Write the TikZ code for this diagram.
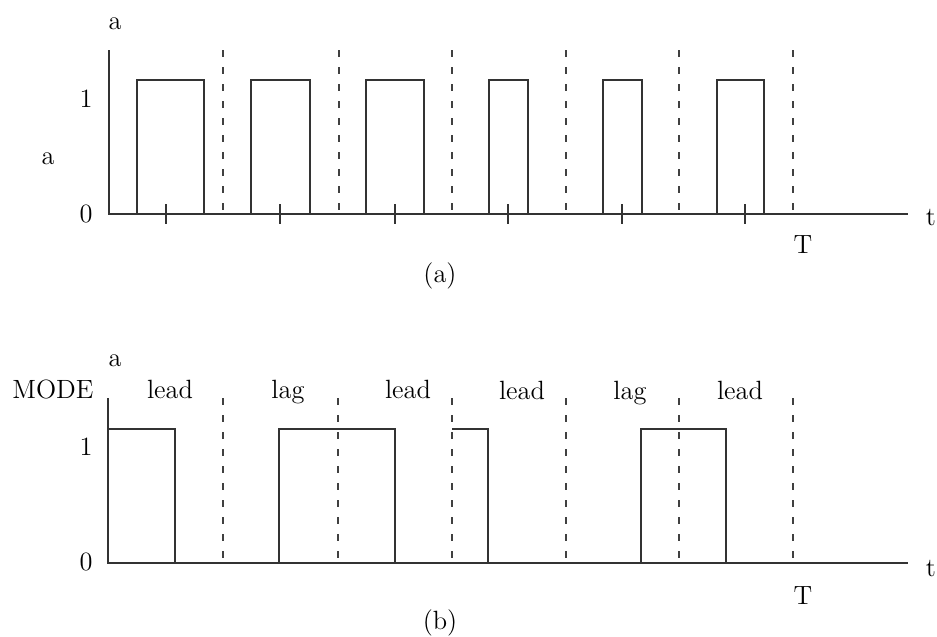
\documentclass[tikz,border=0pt]{standalone}
\begin{document}
\begin{tikzpicture}[x=0.5pt,y=-0.5pt,
  lbl/.style={font=\fontsize{13.2}{15.8}\selectfont, inner sep=0pt},
  axisline/.style={line width=0.65pt, draw=black!80},
  sigline/.style={line width=0.65pt, draw=black!80},
  divider/.style={line width=0.65pt, draw=black!75, dash pattern=on 3.5pt off 5pt}]
\useasboundingbox (0,0) rectangle (937,637);

% ---------------- panel (a) ----------------
\draw[axisline] (109,50) -- (109,214) -- (908,214);
\foreach \x in {223,339,452,566,679,793}
  \draw[divider] (\x,50) -- (\x,214);
\foreach \l/\r in {137/204,251/310,366/424,489/528,603/642,717/764}
  \draw[sigline] (\l,214) -- (\l,80) -- (\r,80) -- (\r,214);
\foreach \x in {166,280,395,508,622,745}
  \draw[sigline] (\x,204) -- (\x,224);

\node[lbl] (ayTop) at (115,24) {a};
\node[lbl] (ayMid) at (48,159) {a};
\node[lbl] (aOne)  at (86,99) {1};
\node[lbl] (aZero) at (86,214) {0};
\node[lbl] (aT)    at (803,245) {T};
\node[lbl] (at)    at (931,218) {t};
\node[lbl] (acap)  at (440,276) {(a)};

% ---------------- panel (b) ----------------
\draw[axisline] (108,398) -- (108,563) -- (908,563);
\foreach \x in {223,338,452,566,679,793}
  \draw[divider] (\x,398) -- (\x,563);
\draw[sigline] (108,429) -- (175,429) -- (175,563);
\draw[sigline] (279,563) -- (279,429) -- (395,429) -- (395,563);
\draw[sigline] (452,429) -- (488,429) -- (488,563);
\draw[sigline] (641,563) -- (641,429) -- (726,429) -- (726,563);

\node[lbl] (byTop) at (115,361) {a};
\node[lbl, anchor=base] (mode) at (53,398) {MODE};
\node[lbl, anchor=base] (m1) at (170,398) {lead};
\node[lbl, anchor=base] (m2) at (288,398) {lag};
\node[lbl, anchor=base] (m3) at (408,398) {lead};
\node[lbl, anchor=base] (m4) at (522,399) {lead};
\node[lbl, anchor=base] (m5) at (630,399) {lag};
\node[lbl, anchor=base] (m6) at (740,399) {lead};
\node[lbl] (bOne)  at (86,447) {1};
\node[lbl] (bZero) at (86,562) {0};
\node[lbl] (bT)    at (803,596) {T};
\node[lbl] (bt)    at (931,569) {t};
\node[lbl] (bcap)  at (440,623) {(b)};
\end{tikzpicture}
\end{document}
